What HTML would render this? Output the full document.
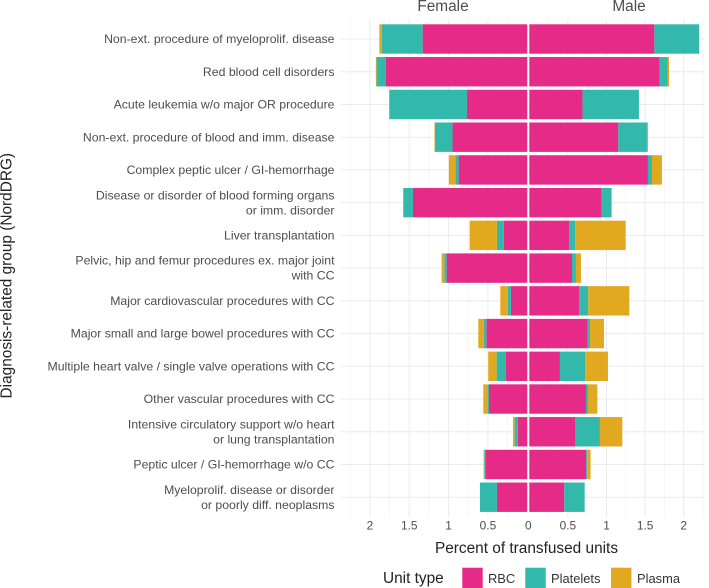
<!DOCTYPE html>
<html>
<head>
<meta charset="utf-8">
<style>
html,body{margin:0;padding:0;background:#fff;}
svg{display:block;font-family:"Liberation Sans",Arial,sans-serif;}
</style>
</head>
<body>
<svg id="chart" width="709" height="588" viewBox="0 0 709 588" xmlns="http://www.w3.org/2000/svg"></svg>
<script>
const categories = [
  "Non-ext. procedure of myeloprolif. disease",
  "Red blood cell disorders",
  "Acute leukemia w/o major OR procedure",
  "Non-ext. procedure of blood and imm. disease",
  "Complex peptic ulcer / GI-hemorrhage",
  "Disease or disorder of blood forming organs\nor imm. disorder",
  "Liver transplantation",
  "Pelvic, hip and femur procedures ex. major joint\nwith CC",
  "Major cardiovascular procedures with CC",
  "Major small and large bowel procedures with CC",
  "Multiple heart valve / single valve operations with CC",
  "Other vascular procedures with CC",
  "Intensive circulatory support w/o heart\nor lung transplantation",
  "Peptic ulcer / GI-hemorrhage w/o CC",
  "Myeloprolif. disease or disorder\nor poorly diff. neoplasms"
];
const femaleRBC = [1.33,1.80,0.767,0.95,0.873,1.453,0.297,1.025,0.208,0.521,0.271,0.487,0.119,0.534,0.386];
const femalePlatelets = [0.52,0.115,0.987,0.224,0.042,0.123,0.089,0.03,0.038,0.03,0.119,0.013,0.042,0.013,0.216];
const femalePlasma = [0.03,0.009,0,0.006,0.081,0,0.347,0.034,0.097,0.072,0.106,0.059,0.021,0.008,0];
const maleRBC = [1.62,1.69,0.69,1.153,1.537,0.937,0.514,0.553,0.648,0.756,0.397,0.734,0.592,0.738,0.453];
const malePlatelets = [0.58,0.10,0.73,0.371,0.052,0.129,0.082,0.051,0.116,0.03,0.328,0.026,0.323,0.013,0.264];
const malePlasma = [0,0.02,0,0.013,0.129,0,0.652,0.065,0.531,0.181,0.294,0.121,0.29,0.043,0];
const tickValues = [0,0.5,1,1.5,2];
const tickLabels = ["0","0.5","1","1.5","2"];
const minorTickValues = [0.25,0.75,1.25,1.75,2.25];
const unitTypes = ["RBC","Platelets","Plasma"];

const svg = document.getElementById('chart');
const NS = 'http://www.w3.org/2000/svg';
const colors = {RBC:'#e62a87',Platelets:'#33b8ac',Plasma:'#e2a81f'};
const PANEL_TOP = 19, PANEL_BOTTOM = 517;
const F_LEFT = 341, F_RIGHT = 527.3, M_LEFT = 529.3, M_RIGHT = 704;
function xF(v){return 527.3 - v*78.7;}
function xM(v){return 529.3 + v*77.2;}
function yRow(i){return 39 + i*32.73;}
const BAR_H = 29.4;

function make(tag,attrs,parent,text){
  const el = document.createElementNS(NS,tag);
  for(const k in attrs){el.setAttribute(k,attrs[k]);}
  if(text!==undefined){el.textContent=text;}
  (parent||svg).appendChild(el);
  return el;
}

// gridlines
const gridGroup = make('g',{});


minorTickValues.forEach(v=>{
  make('line',{x1:xF(v),x2:xF(v),y1:PANEL_TOP,y2:PANEL_BOTTOM,stroke:'#f1f1f1','stroke-width':0.7},gridGroup);
  make('line',{x1:xM(v),x2:xM(v),y1:PANEL_TOP,y2:PANEL_BOTTOM,stroke:'#f1f1f1','stroke-width':0.7},gridGroup);
});
tickValues.forEach(v=>{
  if(v===0){return;}
  make('line',{x1:xF(v),x2:xF(v),y1:PANEL_TOP,y2:PANEL_BOTTOM,stroke:'#ebebeb','stroke-width':1},gridGroup);
  make('line',{x1:xM(v),x2:xM(v),y1:PANEL_TOP,y2:PANEL_BOTTOM,stroke:'#ebebeb','stroke-width':1},gridGroup);
});
categories.forEach((c,i)=>{
  make('line',{x1:F_LEFT,x2:F_RIGHT,y1:yRow(i),y2:yRow(i),stroke:'#ebebeb','stroke-width':1},gridGroup);
  make('line',{x1:M_LEFT,x2:M_RIGHT,y1:yRow(i),y2:yRow(i),stroke:'#ebebeb','stroke-width':1},gridGroup);
});

// bars
function drawStack(i,series,scale,side){
  let cum = 0;
  series.forEach(s=>{
    const v = s.values[i];
    if(v>0){
      const a = scale(cum), b = scale(cum+v);
      const r = make('rect',{x:Math.min(a,b),y:yRow(i)-BAR_H/2,width:Math.abs(b-a),height:BAR_H,fill:colors[s.name]});
      
      
    }
    cum += v;
  });
}
const femaleSeries = [{name:'RBC',values:femaleRBC},{name:'Platelets',values:femalePlatelets},{name:'Plasma',values:femalePlasma}];
const maleSeries = [{name:'RBC',values:maleRBC},{name:'Platelets',values:malePlatelets},{name:'Plasma',values:malePlasma}];
categories.forEach((c,i)=>{
  drawStack(i,femaleSeries,xF,'female');
  drawStack(i,maleSeries,xM,'male');
});

// y labels
categories.forEach((c,i)=>{
  const lines = c.split('\n');
  const t = make('text',{x:334.5,'text-anchor':'end','font-size':12.27,fill:'#4d4d4d'});
  
  
  const startY = yRow(i) + 4.1 - (lines.length-1)*7.5;
  lines.forEach((ln,j)=>{
    make('tspan',{x:334.5,y:startY + j*15},t,ln);
  });
});

// x tick labels
tickValues.forEach((v,i)=>{
  const a = make('text',{x:v===0?xF(0)+1:xF(v),y:529.5,'text-anchor':'middle','font-size':11.9,fill:'#4d4d4d'},svg,tickLabels[i]);
  
  
  if(v!==0){
    const b = make('text',{x:xM(v),y:529.5,'text-anchor':'middle','font-size':11.9,fill:'#4d4d4d'},svg,tickLabels[i]);
    
    
  }
});

// legend
const swatchX = [462.3,525.3,611];
const labelX = [488,551,637];
unitTypes.forEach((u,i)=>{
  const r = make('rect',{x:swatchX[i],y:567.7,width:20.4,height:20.3,fill:colors[u]});
  
  
  const t = make('text',{x:labelX[i],y:583,'font-size':12.9,fill:'#333333'},svg,u);
  
  
});
</script>
<script>
(function(){
  const s = document.getElementById('chart');
  const ns = 'http://www.w3.org/2000/svg';
  const f = document.createElementNS(ns,'text');
  f.setAttribute('x','443');f.setAttribute('y','11');f.setAttribute('text-anchor','middle');
  f.setAttribute('font-size','15.4');f.setAttribute('fill','#4d4d4d');
  
  
  f.textContent='Female';s.appendChild(f);
  const m = document.createElementNS(ns,'text');
  m.setAttribute('x','629');m.setAttribute('y','11');m.setAttribute('text-anchor','middle');
  m.setAttribute('font-size','15.4');m.setAttribute('fill','#4d4d4d');
  
  
  m.textContent='Male';s.appendChild(m);
  const xt = document.createElementNS(ns,'text');
  xt.setAttribute('x','526.5');xt.setAttribute('y','553');xt.setAttribute('text-anchor','middle');
  xt.setAttribute('font-size','15.4');xt.setAttribute('fill','#222222');
  
  
  xt.textContent='Percent of transfused units';s.appendChild(xt);
  const yt = document.createElementNS(ns,'text');
  yt.setAttribute('transform','translate(11.7,275.7) rotate(-90)');yt.setAttribute('text-anchor','middle');
  yt.setAttribute('font-size','15.4');yt.setAttribute('fill','#222222');
  
  
  yt.textContent='Diagnosis-related group (NordDRG)';s.appendChild(yt);
  const lt = document.createElementNS(ns,'text');
  lt.setAttribute('x','383');lt.setAttribute('y','583');
  lt.setAttribute('font-size','15.4');lt.setAttribute('fill','#222222');
  
  
  lt.textContent='Unit type';s.appendChild(lt);
})();
</script>
</body>
</html>
